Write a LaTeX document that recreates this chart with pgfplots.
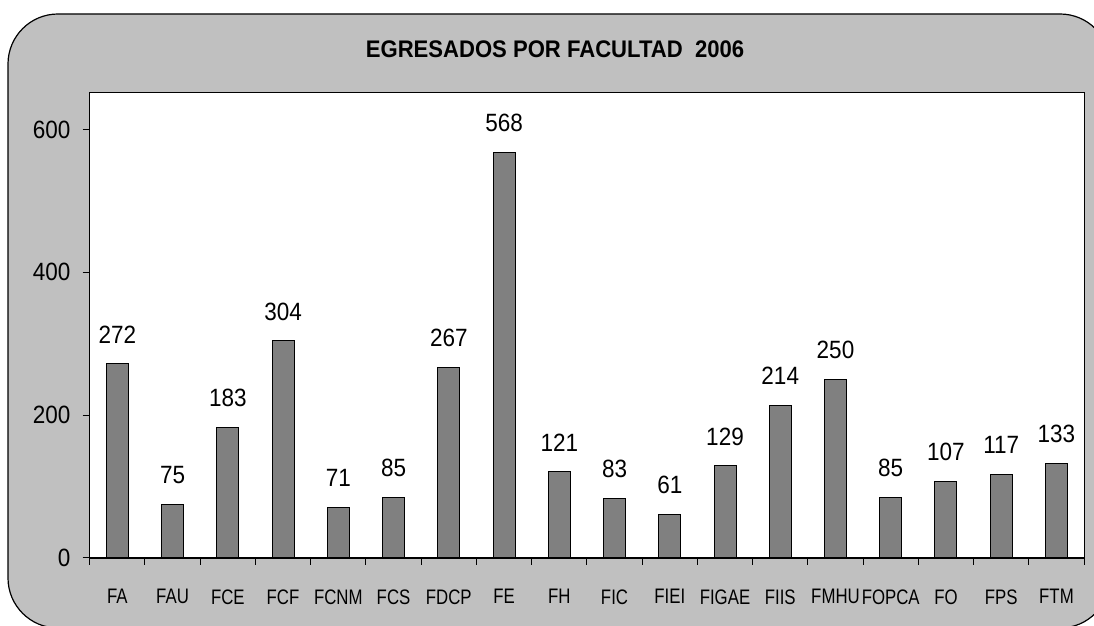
\documentclass[border=0pt]{standalone}
\usepackage{pgfplots}
\pgfplotsset{compat=1.18}
\usepackage{fontspec}
\setmainfont{Liberation Sans}
\newfontfamily\labfont[FakeStretch=0.8]{Liberation Sans}
\newfontfamily\numfont[FakeStretch=0.9]{Liberation Sans}
\newfontfamily\titfont[FakeStretch=0.92]{Liberation Sans}
\definecolor{chartbg}{HTML}{C0C0C0}
\definecolor{barfill}{HTML}{808080}
\begin{document}
\begin{tikzpicture}[x=1pt,y=1pt]
\useasboundingbox (0,0) rectangle (547,313);
\clip (0,0) rectangle (547,313);
\fill[white] (0,0) rectangle (547,313);
\draw[fill=chartbg, line width=0.6pt, rounded corners=25pt] (4,-1) rectangle (555,306);
\begin{axis}[
  at={(44.85pt,34pt)}, anchor=south west,
  scale only axis, width=497.2pt, height=232.8pt,
  axis background/.style={fill=white},
  axis line style={line width=0.6pt, black},
  ybar, bar width=11pt,
  xmin=-0.5, xmax=17.5, ymin=0, ymax=652,
  xtick={0,...,17},
  xticklabels={FA,FAU,FCE,FCF,FCNM,FCS,FDCP,FE,FH,FIC,FIEI,FIGAE,FIIS,FMHU,FOPCA,FO,FPS,FTM},
  minor xtick={-0.5,0.5,...,17.5},
  major x tick style={draw=none},
  minor tick length=3.5pt,
  major tick length=3.5pt,
  tick align=outside,
  xtick pos=bottom, ytick pos=left,
  tick style={black, line width=0.5pt},
  ytick={0,200,400,600},
  /pgf/number format/assume math mode=true,
  xticklabel style={font=\labfont\fontsize{10.5}{12}\selectfont, anchor=north, inner sep=0pt, yshift=-12pt},
  yticklabel style={font=\numfont\fontsize{12.5}{14}\selectfont, anchor=east, inner sep=0pt, xshift=-6pt},
  nodes near coords,
  every node near coord/.append style={font=\numfont\fontsize{12.5}{14}\selectfont, anchor=south, inner sep=0pt, yshift=10pt},
  clip=false,
]
\addplot[fill=barfill, draw=black, line width=0.5pt] coordinates {
(0,272) (1,75) (2,183) (3,304) (4,71) (5,85) (6,267) (7,568) (8,121)
(9,83) (10,61) (11,129) (12,214) (13,250) (14,85) (15,107) (16,117) (17,133)};
\end{axis}
\node[font=\titfont\bfseries\fontsize{12}{14}\selectfont, anchor=center] at (277.5,288.5) {EGRESADOS POR FACULTAD\ \ 2006};
\end{tikzpicture}
\end{document}
